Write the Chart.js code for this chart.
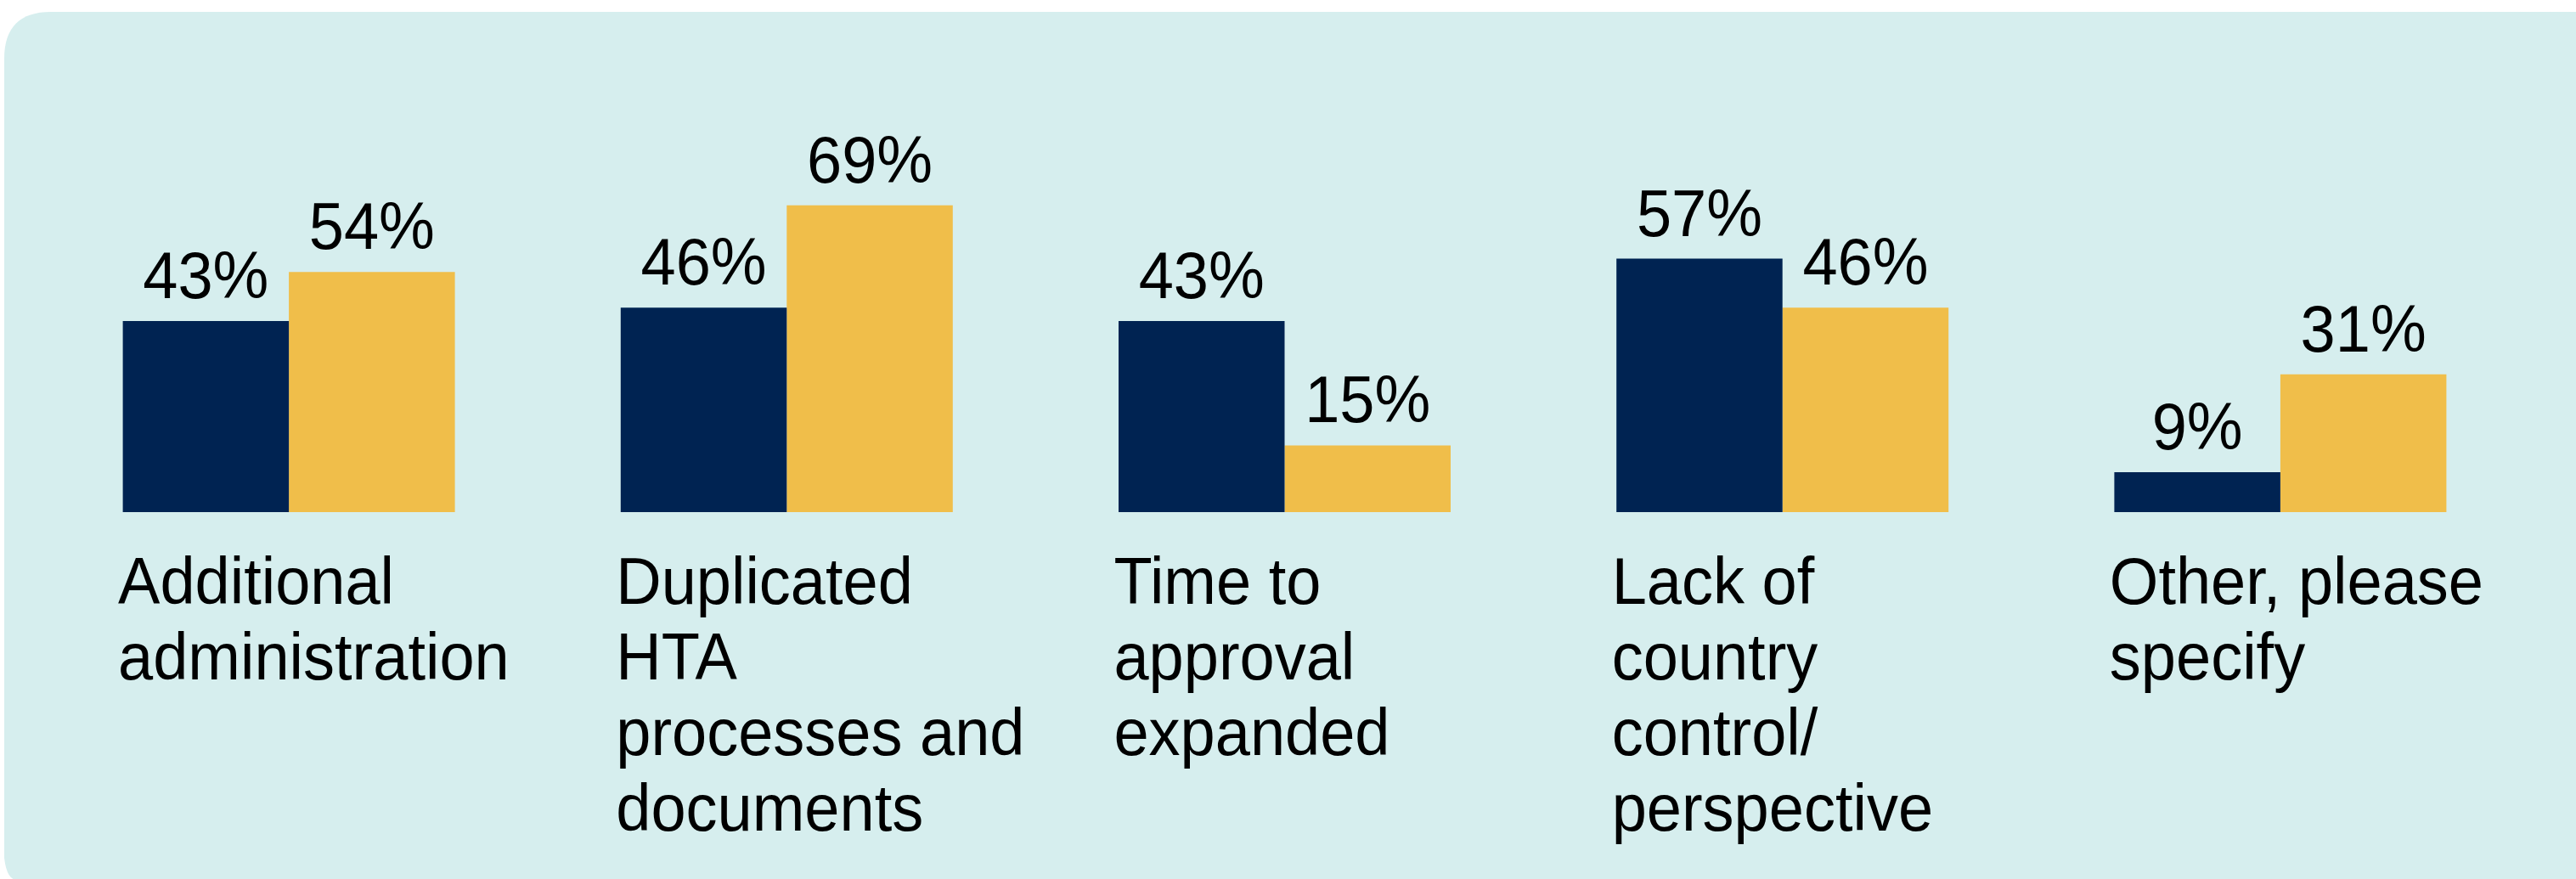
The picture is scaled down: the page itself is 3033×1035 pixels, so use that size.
<!DOCTYPE html>
<html>
<head>
<meta charset="utf-8">
<script src="https://cdn.jsdelivr.net/npm/chart.js@4"></script>
<style>
  html, body { margin: 0; padding: 0; background: #ffffff; }
  #wrap { width: 3033px; height: 1035px; position: relative; }
  canvas { display: block; }
</style>
</head>
<body>
<div id="wrap"><canvas id="c" width="3033" height="1035"></canvas></div>
<script>
// ---- data ----
const categories = [
  ["Additional", "administration"],
  ["Duplicated", "HTA", "processes and", "documents"],
  ["Time to", "approval", "expanded"],
  ["Lack of", "country", "control/", "perspective"],
  ["Other, please", "specify"]
];
const seriesNames = ["Group 1", "Group 2"];
const seriesA = [43, 46, 43, 57, 9];
const seriesB = [54, 69, 15, 46, 31];

// ---- styles ----
const NAVY = "#002352";
const GOLD = "#f0be4a";
const PANEL = "#d6eeee";
const FONT = '"Liberation Sans", Arial, sans-serif';
const FONT_SIZE = 74;
const V_STRETCH = 1.06;

const panelPlugin = {
  id: "panel",
  beforeDraw(chart) {
    const ctx = chart.ctx;
    const x = 5, y = 14, w = chart.width + 60, h = chart.height - 14 + 60, r = 55;
    ctx.save();
    ctx.fillStyle = "#ffffff";
    ctx.fillRect(0, 0, chart.width, chart.height);
    ctx.fillStyle = PANEL;
    ctx.beginPath();
    ctx.moveTo(x + r, y);
    ctx.lineTo(x + w, y);
    ctx.lineTo(x + w, y + h);
    ctx.lineTo(x, y + h);
    ctx.lineTo(x, y + r);
    ctx.quadraticCurveTo(x, y, x + r, y);
    ctx.closePath();
    ctx.fill();
    ctx.fillStyle = "#ffffff";
    ctx.beginPath();
    const by = chart.height;
    ctx.moveTo(x - 1, by - 40);
    ctx.quadraticCurveTo(x, by, x + 14, by + 1);
    ctx.lineTo(x - 1, by + 1);
    ctx.closePath();
    ctx.fill();
    ctx.restore();
  }
};

function drawText(ctx, text, x, y) {
  ctx.save();
  ctx.translate(x, y);
  ctx.scale(1, V_STRETCH);
  ctx.fillText(text, 0, 0);
  ctx.restore();
}

const labelsPlugin = {
  id: "labels",
  afterDatasetsDraw(chart) {
    const ctx = chart.ctx;
    ctx.save();
    ctx.fillStyle = "#000000";
    ctx.font = FONT_SIZE + "px " + FONT;
    ctx.textAlign = "center";
    ctx.textBaseline = "alphabetic";
    chart.data.datasets.forEach((ds, di) => {
      const meta = chart.getDatasetMeta(di);
      meta.data.forEach((bar, i) => {
        drawText(ctx, ds.data[i] + "%", bar.x, bar.y - 27);
      });
    });
    const xs = chart.scales.x;
    const catW = xs.width / chart.data.labels.length;
    const base = chart.scales.y.getPixelForValue(0);
    ctx.textAlign = "left";
    chart.data.labels.forEach((lines, i) => {
      const cx = xs.getPixelForValue(i);
      const left = cx - catW * 0.343;
      lines.forEach((ln, k) => {
        drawText(ctx, ln, left, base + 108 + k * 89);
      });
    });
    ctx.restore();
  }
};

new Chart(document.getElementById("c"), {
  type: "bar",
  data: {
    labels: categories,
    datasets: [
      { label: seriesNames[0], data: seriesA, backgroundColor: NAVY, borderWidth: 0 },
      { label: seriesNames[1], data: seriesB, backgroundColor: GOLD, borderWidth: 0 }
    ]
  },
  options: {
    responsive: false,
    animation: false,
    devicePixelRatio: 1,
    layout: { padding: { left: 47, right: 55, top: 79.5, bottom: 432 } },
    plugins: { legend: { display: false }, tooltip: { enabled: false } },
    datasets: { bar: { categoryPercentage: 0.667, barPercentage: 1.0 } },
    scales: {
      x: { display: false },
      y: { display: false, min: 0, max: 100 }
    }
  },
  plugins: [panelPlugin, labelsPlugin]
});
</script>
</body>
</html>
